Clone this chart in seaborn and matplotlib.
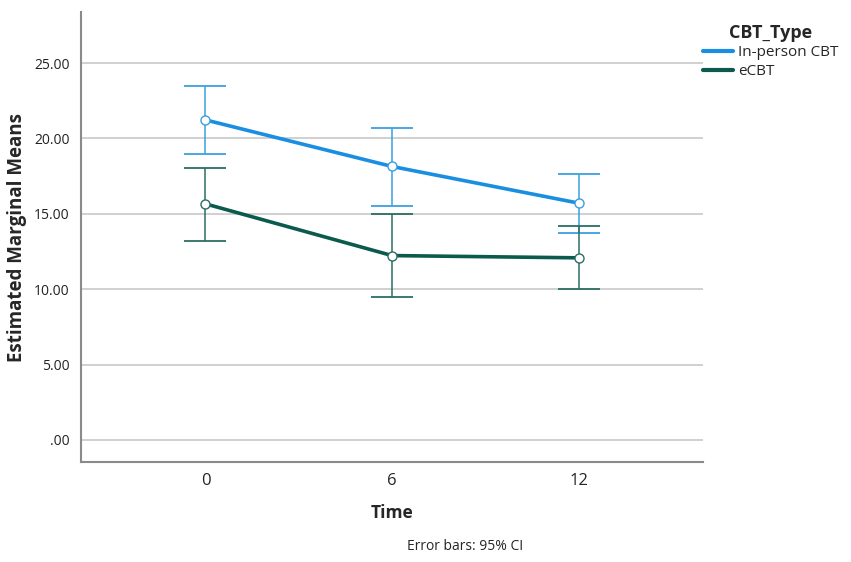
import numpy as np
import pandas as pd
import seaborn as sns
import matplotlib
matplotlib.use('Agg')
import matplotlib.pyplot as plt

# Estimated marginal means
time_labels = ['0', '6', '12']
groups = ['In-person CBT', 'eCBT']
means_inperson = [21.23, 18.14, 15.71]
lower_inperson = [18.96, 15.55, 13.72]
upper_inperson = [23.47, 20.72, 17.67]
means_ecbt = [15.66, 12.23, 12.08]
lower_ecbt = [13.22, 9.47, 10.00]
upper_ecbt = [18.07, 15.00, 14.22]

line_colors = {'In-person CBT': '#1a8ee0', 'eCBT': '#0b5a4e'}
err_colors = {'In-person CBT': '#3a9fe0', 'eCBT': '#2b6e62'}

df = pd.DataFrame({
    'Time': list(range(len(time_labels))) * 2,
    'Mean': means_inperson + means_ecbt,
    'Lower': lower_inperson + lower_ecbt,
    'Upper': upper_inperson + upper_ecbt,
    'CBT_Type': [groups[0]] * 3 + [groups[1]] * 3,
})

sns.set_style('white')
plt.rcParams['font.family'] = ['Open Sans', 'DejaVu Sans']

fig = plt.figure(figsize=(8.51, 5.62), dpi=100)
ax = fig.add_axes([0.0952, 0.178, 0.731, 0.801])

# error bars first so the lines sit on top
for g in groups:
    sub = df[df['CBT_Type'] == g]
    ax.errorbar(sub['Time'], sub['Mean'],
                yerr=[sub['Mean'] - sub['Lower'], sub['Upper'] - sub['Mean']],
                fmt='none', ecolor=err_colors[g], elinewidth=1.1,
                capsize=15, capthick=1.3, zorder=3)

n_before = len(ax.get_lines())
sns.lineplot(data=df, x='Time', y='Mean', hue='CBT_Type', palette=line_colors,
             linewidth=2.6, marker='o', markersize=6.5,
             ax=ax, legend=False, zorder=4)
# open markers with group-coloured edges (skip the errorbar cap lines)
for line, g in zip(ax.get_lines()[n_before:], groups):
    line.set_markerfacecolor('white')
    line.set_markeredgecolor(err_colors[g])
    line.set_markeredgewidth(1.0)

ax.set_xlim(-0.667, 2.667)
ax.set_ylim(-1.46, 28.4)
ax.set_xticks(range(len(time_labels)))
ax.set_xticklabels(time_labels, fontsize=12)
yt = [0, 5, 10, 15, 20, 25]
ax.set_yticks(yt)
ax.set_yticklabels(['.00', '5.00', '10.00', '15.00', '20.00', '25.00'], fontsize=10, color='#222222')
ax.tick_params(axis='both', length=0, pad=8)
ax.yaxis.grid(True, color='#c8c8c8', linewidth=1.2)
ax.set_axisbelow(True)

for s in ['top', 'right']:
    ax.spines[s].set_visible(False)
for s in ['left', 'bottom']:
    ax.spines[s].set_color('#8a8a8a')
    ax.spines[s].set_linewidth(1.5)

ax.set_xlabel('Time', fontsize=12.5, fontweight='bold', labelpad=11)
ax.set_ylabel('Estimated Marginal Means', fontsize=13.5, fontweight='bold')
ax.yaxis.set_label_coords(-0.087, 0.498)

fig.text(0.546, 0.027, 'Error bars: 95% CI', fontsize=10, ha='center', va='center')

handles = [plt.Line2D([], [], color=line_colors[g], linewidth=3) for g in groups]
leg = fig.legend(handles, groups, loc='upper left', bbox_to_anchor=(0.826, 0.958),
                 frameon=False, title='CBT_Type', fontsize=11, handlelength=2.0,
                 handletextpad=0.3, labelspacing=0.25, borderpad=0, borderaxespad=0,
                 alignment='center')
leg.get_title().set_fontweight('bold')
leg.get_title().set_fontsize(13)

fig.savefig('out.png', dpi=100)
